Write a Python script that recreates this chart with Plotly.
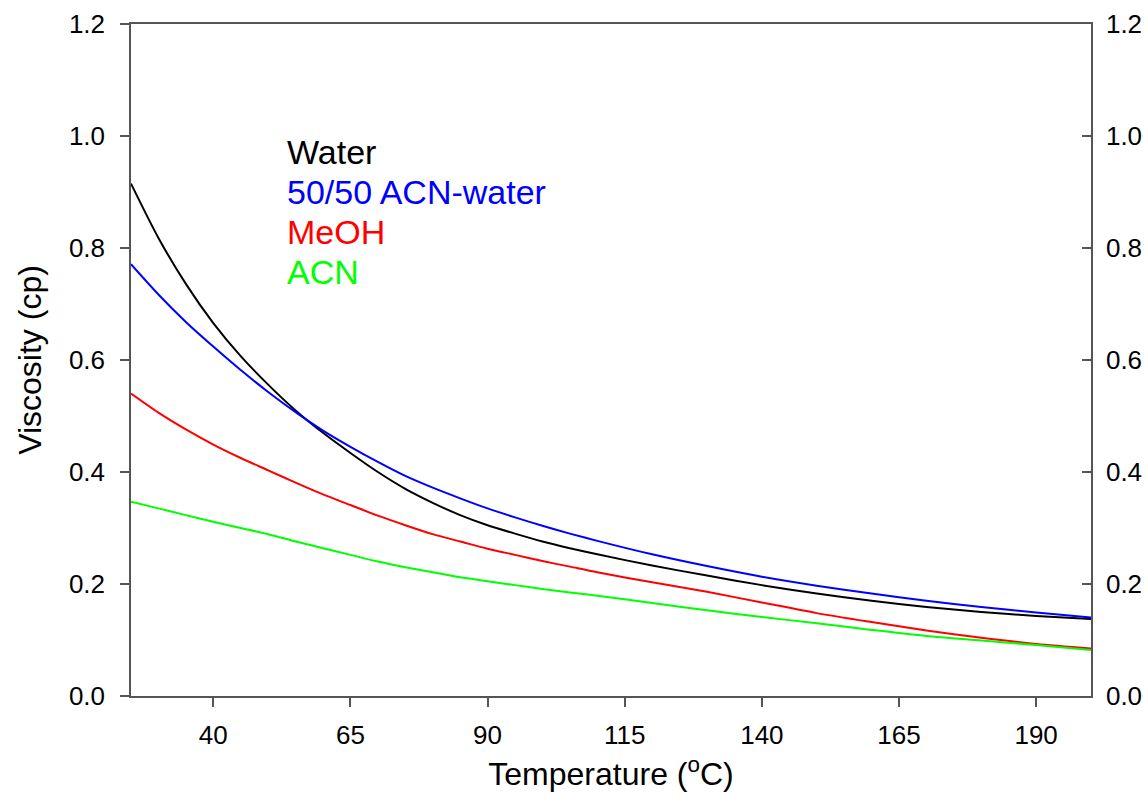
import plotly.graph_objects as go

temperature = [25, 30, 35, 40, 45, 50, 55, 60, 65, 70, 75, 80, 85, 90, 95, 100, 105, 110,
               120, 130, 140, 150, 160, 170, 180, 190, 200]
water = [0.915, 0.818, 0.736, 0.666, 0.607, 0.556, 0.510, 0.470, 0.434, 0.400, 0.370, 0.345,
         0.323, 0.305, 0.290, 0.276, 0.264, 0.253, 0.233, 0.215, 0.198, 0.183, 0.170, 0.159,
         0.150, 0.143, 0.1375]
acn_water = [0.771, 0.717, 0.668, 0.624, 0.582, 0.543, 0.507, 0.474, 0.445, 0.418, 0.393, 0.372,
             0.353, 0.335, 0.319, 0.304, 0.290, 0.277, 0.253, 0.232, 0.213, 0.197, 0.183, 0.170,
             0.159, 0.149, 0.140]
meoh = [0.540, 0.506, 0.476, 0.449, 0.425, 0.403, 0.381, 0.360, 0.341, 0.322, 0.305, 0.289,
        0.276, 0.263, 0.252, 0.241, 0.231, 0.221, 0.203, 0.186, 0.167, 0.148, 0.132, 0.117,
        0.104, 0.093, 0.085]
acn = [0.347, 0.335, 0.323, 0.311, 0.300, 0.289, 0.276, 0.264, 0.252, 0.240, 0.230, 0.221,
       0.212, 0.205, 0.198, 0.191, 0.185, 0.179, 0.166, 0.153, 0.141, 0.130, 0.118, 0.107,
       0.099, 0.091, 0.082]

series_names = ["Water", "50/50 ACN-water", "MeOH", "ACN"]
series_values = [water, acn_water, meoh, acn]
series_colors = ["#000000", "#0000FF", "#FF0000", "#00FF00"]

x_ticks = [40, 65, 90, 115, 140, 165, 190]
y_ticks = [0.0, 0.2, 0.4, 0.6, 0.8, 1.0, 1.2]

FONT = "Liberation Sans, Arial, sans-serif"
AXIS_COLOR = "#555555"

L, R, T, B = 131, 57, 24, 110
W, H = 1148, 806
pw, ph = W - L - R, H - T - B

fig = go.Figure()
for name, vals, col in zip(series_names, series_values, series_colors):
    fig.add_trace(go.Scatter(x=temperature, y=vals, mode="lines", name=name,
                             line=dict(color=col, width=2, shape="spline", smoothing=0.8),
                             showlegend=False))

# invisible trace carrying the right-hand axis
fig.add_trace(go.Scatter(x=temperature, y=water, yaxis="y2", mode="lines",
                         line=dict(width=0, color="rgba(0,0,0,0)"), showlegend=False,
                         hoverinfo="skip"))

# label block (pixel positions converted to paper coords)
for i, (name, col) in enumerate(zip(series_names, series_colors)):
    px, py = 285, 152 + 40 * i
    fig.add_annotation(x=(px - L) / pw, y=1 - (py - T) / ph, xref="paper", yref="paper",
                       text=name, showarrow=False, xanchor="left", yanchor="middle",
                       font=dict(family=FONT, size=34, color=col))

fig.update_layout(
    width=W, height=H,
    margin=dict(l=L, r=R, t=T, b=B, autoexpand=False),
    paper_bgcolor="white", plot_bgcolor="white",
    font=dict(family=FONT, size=26, color="black"),
    xaxis=dict(range=[25, 200], tickvals=x_ticks, ticks="outside", ticklen=9, tickwidth=1.5,
               tickcolor=AXIS_COLOR, showline=True, linecolor=AXIS_COLOR, linewidth=1.5,
               mirror=True, showgrid=False, zeroline=False, automargin=False,
               title=dict(text="Temperature (<sup>o</sup>C)", font=dict(size=32), standoff=14),
               tickfont=dict(size=26), ticklabelstandoff=6),
    yaxis=dict(range=[0, 1.2], tickvals=y_ticks, tickformat=".1f", ticks="outside", ticklen=9,
               tickwidth=1.5, tickcolor=AXIS_COLOR, showline=True, linecolor=AXIS_COLOR,
               linewidth=1.5, mirror=True, showgrid=False, zeroline=False, automargin=False,
               title=dict(text="Viscosity (cp)", font=dict(size=32), standoff=18),
               tickfont=dict(size=26), ticklabelstandoff=10),
    yaxis2=dict(range=[0, 1.2], overlaying="y", side="right", tickvals=y_ticks, tickformat=".1f",
                ticks="inside", ticklen=9, tickwidth=1.5, tickcolor=AXIS_COLOR, showline=True,
                linecolor=AXIS_COLOR, linewidth=1.5, showgrid=False, zeroline=False,
                automargin=False, tickfont=dict(size=26), ticklabelstandoff=8),
)

fig.write_html("out.html")
